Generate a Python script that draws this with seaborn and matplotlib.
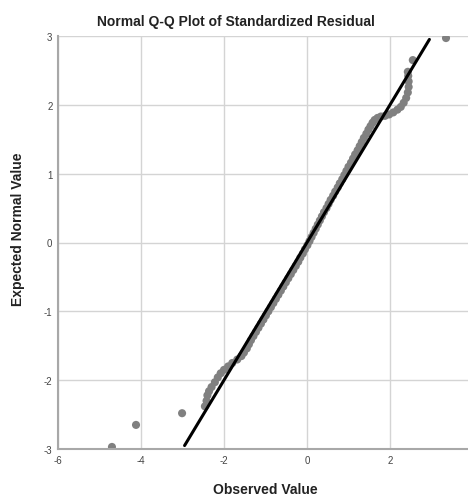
import numpy as np
import pandas as pd
import matplotlib
matplotlib.use("Agg")
import matplotlib.pyplot as plt
import seaborn as sns

# ── data (observed residual vs expected normal value) ──
observed = [
    -4.70, -4.12, -3.01,
    -2.46, -2.42, -2.40, -2.36, -2.30, -2.22, -2.15, -2.08, -2.00, -1.90,
    -1.80, -1.68, -1.58, -1.52, -1.45, -1.40,
    -1.35, -1.29, -1.23, -1.17, -1.11, -1.05, -0.99, -0.93, -0.87, -0.81,
    -0.75, -0.69, -0.63, -0.57, -0.51, -0.45, -0.39, -0.33, -0.27, -0.21,
    -0.16, -0.10, -0.05, 0.01, 0.06, 0.11, 0.16, 0.21, 0.26, 0.31,
    0.36, 0.41, 0.47, 0.52, 0.57, 0.63, 0.68, 0.74, 0.79, 0.85,
    0.90, 0.95, 1.00, 1.06, 1.11, 1.16, 1.22, 1.27, 1.32, 1.37,
    1.43, 1.48, 1.53, 1.58, 1.63, 1.70, 1.78, 1.88, 1.98, 2.08,
    2.18, 2.26, 2.33, 2.39, 2.43, 2.45, 2.45, 2.44, 2.43, 2.55, 3.35,
]
expected = [
    -2.97, -2.65, -2.48,
    -2.38, -2.30, -2.22, -2.16, -2.10, -2.03, -1.96, -1.90, -1.85, -1.80,
    -1.75, -1.70, -1.65, -1.60, -1.54, -1.48,
    -1.42, -1.36, -1.30, -1.24, -1.18, -1.12, -1.06, -1.00, -0.94, -0.88,
    -0.82, -0.76, -0.70, -0.64, -0.58, -0.52, -0.46, -0.40, -0.34, -0.28,
    -0.22, -0.16, -0.10, -0.04, 0.02, 0.08, 0.14, 0.20, 0.26, 0.32,
    0.38, 0.44, 0.50, 0.56, 0.62, 0.68, 0.74, 0.80, 0.86, 0.92,
    0.98, 1.04, 1.10, 1.16, 1.22, 1.28, 1.34, 1.40, 1.46, 1.52,
    1.58, 1.64, 1.69, 1.74, 1.78, 1.81, 1.83, 1.84, 1.86, 1.89,
    1.93, 1.97, 2.03, 2.10, 2.18, 2.26, 2.34, 2.42, 2.48, 2.65, 2.97,
]
ref_line = [-2.95, 2.95]
x_ticks = [-6, -4, -2, 0, 2]
y_ticks = [-3, -2, -1, 0, 1, 2, 3]

df = pd.DataFrame({"observed": observed, "expected": expected})
df_line = pd.DataFrame({"x": ref_line, "y": ref_line})

sns.set_style("white")
plt.rcParams["font.family"] = ["Liberation Sans", "DejaVu Sans"]
plt.rcParams["axes.unicode_minus"] = False

fig = plt.figure(figsize=(4.68, 5.02), dpi=100)
ax = fig.add_axes([58 / 468, 1 - 450 / 502, 410 / 468, 413 / 502])

ax.grid(True, color="#d4d4d4", lw=1.0)
ax.set_axisbelow(True)
sns.scatterplot(data=df, x="observed", y="expected", ax=ax, s=34,
                color="#808080", edgecolor="none", zorder=2)
sns.lineplot(data=df_line, x="x", y="y", ax=ax, color="black", lw=2.2, zorder=3)

ax.set_xlim(-6, 3.88)
ax.set_ylim(-3, 3)
ax.set_xticks(x_ticks)
ax.set_yticks(y_ticks)
ax.tick_params(length=0, labelsize=7, colors="#444444", pad=4)
ax.set_xlabel(""); ax.set_ylabel("")
for s in ["top", "right"]:
    ax.spines[s].set_visible(False)
for s in ["left", "bottom"]:
    ax.spines[s].set_color("#a8a8a8")
    ax.spines[s].set_linewidth(1.5)

fig.text(0.505, 0.956, "Normal Q-Q Plot of Standardized Residual",
         ha="center", va="center", fontsize=10, weight="bold", color="#222222")
fig.text(265 / 468, 1 - 490 / 502, "Observed Value",
         ha="center", va="center", fontsize=10, weight="bold", color="#222222")
fig.text(18 / 468, 1 - 229 / 502, "Expected Normal Value", rotation=90,
         ha="center", va="center", fontsize=10, weight="bold", color="#222222")

plt.savefig("out.png", dpi=100)
plt.close()
